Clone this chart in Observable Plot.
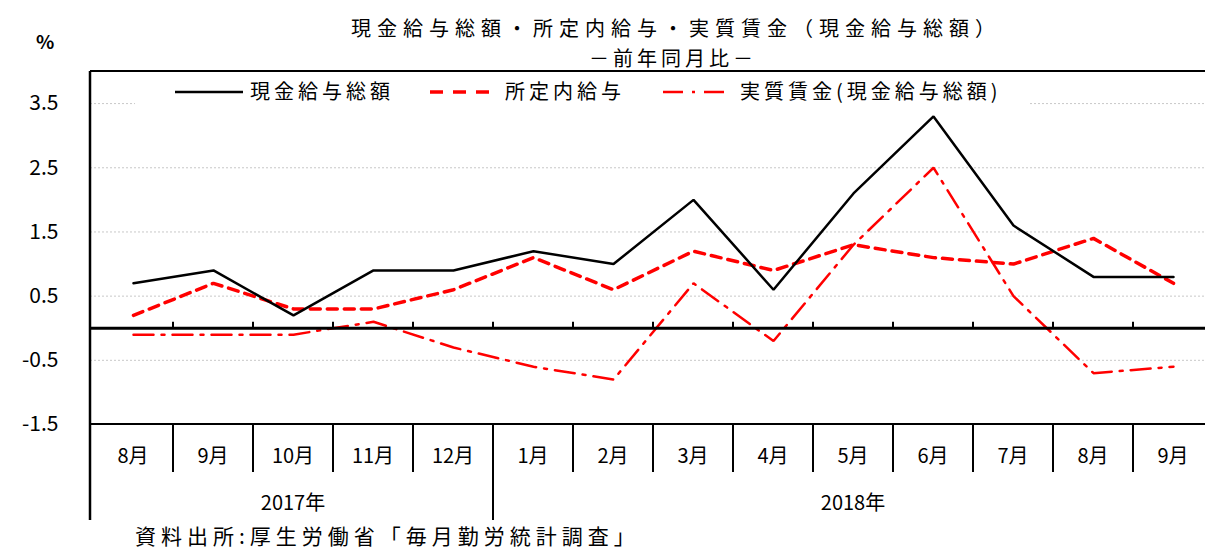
<!DOCTYPE html>
<html><head><meta charset="utf-8">
<script src="https://cdn.jsdelivr.net/npm/d3@7"></script>
<script src="https://cdn.jsdelivr.net/npm/@observablehq/plot@0.6"></script>
<style>
html,body{margin:0;padding:0;background:#fff;overflow:hidden;width:1205px;height:548px;}
body{font-family:"Noto Sans CJK JP","Noto Sans",sans-serif;color:#000;position:relative;}
#head{position:relative;height:62px;}
.tline{position:absolute;left:676px;transform:translateX(-50%);white-space:nowrap;font-size:20px;letter-spacing:6px;line-height:24px;}
#t1{top:16px;}
#t2{top:46px;left:673px;letter-spacing:4px;}
#pct{position:absolute;left:36px;top:29px;font-size:19px;font-weight:bold;line-height:24px;}
#chart{width:1215px;}
#chart svg{display:block;overflow:visible;max-width:none !important;width:1215px !important;height:458px !important;}
#caption{margin-top:4px;padding-left:135px;font-size:21px;letter-spacing:5px;line-height:22px;white-space:nowrap;}
</style>
</head><body>
<div id="head"><div id="pct">%</div><div id="t1" class="tline">現金給与総額・所定内給与・実質賃金（現金給与総額）</div><div id="t2" class="tline">－前年同月比－</div></div>
<div id="chart"></div>
<div id="caption">資料出所:厚生労働省「毎月勤労統計調査」</div>
<script>
const periods = ["2017-08","2017-09","2017-10","2017-11","2017-12","2018-01","2018-02","2018-03","2018-04","2018-05","2018-06","2018-07","2018-08","2018-09"];
const monthLabels = ["8月","9月","10月","11月","12月","1月","2月","3月","4月","5月","6月","7月","8月","9月"];
const yearOf = ["2017年","2017年","2017年","2017年","2017年","2018年","2018年","2018年","2018年","2018年","2018年","2018年","2018年","2018年"];
const totalPay = [0.7,0.9,0.2,0.9,0.9,1.2,1.0,2.0,0.6,2.1,3.3,1.6,0.8,0.8];
const scheduledPay = [0.2,0.7,0.3,0.3,0.6,1.1,0.6,1.2,0.9,1.3,1.1,1.0,1.4,0.7];
const realWage = [-0.1,-0.1,-0.1,0.1,-0.3,-0.6,-0.8,0.7,-0.2,1.3,2.5,0.5,-0.7,-0.6];
const yTicks = [3.5,2.5,1.5,0.5,-0.5,-1.5];
const seriesNames = ["現金給与総額","所定内給与","実質賃金(現金給与総額)"];
const seriesStyles = [
  {stroke:"#000", width:2.5, dash:null},
  {stroke:"#ff0000", width:3.5, dash:"10,7"},
  {stroke:"#ff0000", width:2.5, dash:"20,8,3,8"}
];

const FONT = '"Noto Sans CJK JP","Noto Sans",sans-serif';

function bw(scales, dim){
  return scales.x.bandwidth ? scales.x.bandwidth() : (dim.width - dim.marginLeft - dim.marginRight) / periods.length;
}

// legend (inside plot, white background)
function legendMark(index, scales, values, dim){
  const g = d3.create("svg:g");
  const top = dim.marginTop;
  g.append("rect").attr("x",135).attr("y",top+2).attr("width",895).attr("height",38).attr("fill","#fff");
  const items = [
    {x1:175,x2:243,tx:250},
    {x1:430,x2:490,tx:505},
    {x1:663,x2:725,tx:740}
  ];
  const dashes = [null,"13,10","20,9,3,9"];
  items.forEach((it,i)=>{
    const st = seriesStyles[i];
    g.append("line").attr("x1",it.x1).attr("x2",it.x2).attr("y1",top+21).attr("y2",top+21)
      .attr("stroke",st.stroke).attr("stroke-width",st.width).attr("stroke-dasharray",dashes[i]);
    g.append("text").attr("x",it.tx).attr("y",top+21).attr("dy","0.35em").attr("text-anchor","start")
      .attr("font-size",20).attr("letter-spacing",4).attr("fill","#000").text(seriesNames[i]);
  });
  return g.node();
}

// frame, zero ticks and category rows below
function frameMark(index, scales, values, dim){
  const g = d3.create("svg:g").attr("stroke","#000").attr("fill","none");
  const x = scales.x, b = bw(scales, dim);
  const top = dim.marginTop, bottom = dim.height - dim.marginBottom;
  const left = dim.marginLeft, right = dim.width - dim.marginRight;
  const y0 = scales.y(0);
  g.append("line").attr("x1",left).attr("x2",right).attr("y1",top).attr("y2",top).attr("stroke-width",2);
  g.append("line").attr("x1",left).attr("x2",right).attr("y1",bottom).attr("y2",bottom).attr("stroke-width",2);
  g.append("line").attr("x1",right).attr("x2",right).attr("y1",top).attr("y2",dim.height).attr("stroke-width",2);
  g.append("line").attr("x1",left).attr("x2",left).attr("y1",top).attr("y2",dim.height).attr("stroke-width",2.5);
  const rowH = 48;
  const t = d3.create("svg:g").attr("fill","#000").attr("text-anchor","middle").attr("font-size",20);
  periods.forEach((p,i)=>{
    const xl = x(p);
    if(i>0){
      g.append("line").attr("x1",xl).attr("x2",xl).attr("y1",y0-6).attr("y2",y0).attr("stroke-width",2);
      const yearBreak = yearOf[i] !== yearOf[i-1];
      g.append("line").attr("x1",xl).attr("x2",xl).attr("y1",bottom).attr("y2",yearBreak ? dim.height : bottom+rowH).attr("stroke-width",2);
    }
    t.append("text").attr("x",xl+b/2).attr("y",bottom+32).attr("dy","0.35em").text(monthLabels[i]);
  });
  const years = Array.from(new Set(yearOf));
  years.forEach(yr=>{
    const idx = yearOf.map((v,i)=>v===yr?i:-1).filter(i=>i>=0);
    const x1 = x(periods[idx[0]]), x2 = x(periods[idx[idx.length-1]]) + b;
    t.append("text").attr("x",(x1+x2)/2).attr("y",bottom+79).attr("dy","0.35em").text(yr);
  });
  const wrap = d3.create("svg:g");
  wrap.append(()=>g.node());
  wrap.append(()=>t.node());
  return wrap.node();
}

const chart = Plot.plot({
  width: 1215,
  height: 458,
  marginTop: 9,
  marginLeft: 90,
  marginRight: 0,
  marginBottom: 96,
  style: {fontFamily: FONT, fontSize: "20px", color: "#000", background: "transparent", maxWidth: "none"},
  x: {type: "band", domain: periods, padding: 0, axis: null},
  y: {domain: [-1.5, 4], axis: null},
  marks: [
    Plot.ruleY(yTicks.filter(v => v > -1.5), {stroke: "#c8c8c8", strokeWidth: 1, strokeDasharray: "2,2"}),
    Plot.axisY(yTicks, {tickSize: 0, tickPadding: 32, tickFormat: d => d.toFixed(1), fontSize: 21}),
    legendMark,
    Plot.lineY(realWage, {x: periods, stroke: seriesStyles[2].stroke, strokeWidth: seriesStyles[2].width, strokeDasharray: seriesStyles[2].dash, strokeLinejoin: "miter"}),
    Plot.lineY(scheduledPay, {x: periods, stroke: seriesStyles[1].stroke, strokeWidth: seriesStyles[1].width, strokeDasharray: seriesStyles[1].dash, strokeLinejoin: "miter"}),
    Plot.lineY(totalPay, {x: periods, stroke: seriesStyles[0].stroke, strokeWidth: seriesStyles[0].width, strokeLinejoin: "miter"}),
    Plot.ruleY([0], {stroke: "#000", strokeWidth: 3}),
    frameMark
  ]
});
document.getElementById("chart").appendChild(chart);
</script>
</body></html>
